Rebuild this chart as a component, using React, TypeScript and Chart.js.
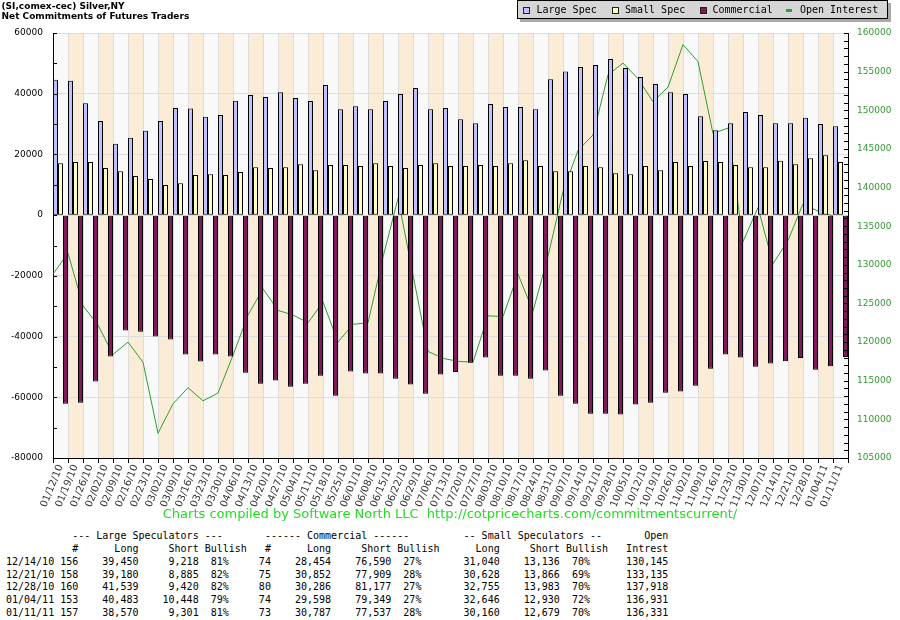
import React, { useEffect, useRef } from "react";
import { Chart, registerables } from "chart.js";

Chart.register(...registerables);

// ---------- chart data ----------
const weeks = [
  "01/12/10", "01/19/10", "01/26/10", "02/02/10", "02/09/10", "02/16/10", "02/23/10",
  "03/02/10", "03/09/10", "03/16/10", "03/23/10", "03/30/10", "04/06/10", "04/13/10",
  "04/20/10", "04/27/10", "05/04/10", "05/11/10", "05/18/10", "05/25/10", "06/01/10",
  "06/08/10", "06/15/10", "06/22/10", "06/29/10", "07/06/10", "07/13/10", "07/20/10",
  "07/27/10", "08/03/10", "08/10/10", "08/17/10", "08/24/10", "08/31/10", "09/07/10",
  "09/14/10", "09/21/10", "09/28/10", "10/05/10", "10/12/10", "10/19/10", "10/26/10",
  "11/02/10", "11/09/10", "11/16/10", "11/23/10", "11/30/10", "12/07/10", "12/14/10",
  "12/21/10", "12/28/10", "01/04/11", "01/11/11",
];

const largeSpec = [
  44600, 44300, 36900, 31000, 23500, 25500, 27800, 31000, 35300, 35100, 32400, 33000,
  37700, 39600, 38900, 40500, 38600, 37600, 42900, 34900, 35900, 34900, 37600, 39900,
  41900, 34900, 35300, 31600, 30300, 36600, 35600, 35600, 34900, 44800, 47300, 48800,
  49500, 51400, 48500, 45500, 43200, 40500, 39900, 32600, 28000, 30300, 34000, 33000,
  30232, 30295, 32119, 30035, 29269,
];

const smallSpec = [
  17100, 17500, 17500, 15500, 14500, 12900, 11900, 9900, 10500, 13200, 13500, 13200,
  14200, 15800, 15500, 15800, 16800, 14800, 16500, 16500, 16200, 17100, 16200, 15500,
  16500, 17100, 16200, 16200, 16500, 16200, 17100, 18100, 16200, 14500, 14500, 16200,
  15800, 13800, 13500, 16200, 14800, 17500, 16200, 17800, 17500, 16500, 15800, 15800,
  17904, 16762, 18772, 19716, 17481,
];

const commercial = [
  -62100, -61800, -54800, -46600, -38000, -38400, -40000, -41000, -45900, -48200, -45900,
  -46600, -51900, -55500, -54500, -56500, -55500, -52900, -59500, -51500, -52200, -52200,
  -53900, -55800, -58800, -52500, -51700, -48600, -46900, -52900, -52900, -53900, -51200,
  -59500, -62100, -65400, -65400, -65700, -62400, -61800, -58500, -58100, -56200, -50600,
  -45900, -46900, -49900, -48900, -48136, -47057, -50891, -49751, -46750,
];

const openInterest = [
  128800, 131500, 124700, 122200, 118400, 120000, 117400, 108200, 112000, 114100, 112400,
  113400, 118300, 123500, 126900, 124100, 123500, 122500, 125200, 120000, 122300, 122500,
  131000, 138600, 128700, 118800, 117900, 117500, 117400, 123400, 123300, 128800, 124000,
  131100, 139500, 144800, 146800, 154600, 156100, 154100, 151100, 153000, 158500, 156300,
  147000, 147700, 133000, 137400, 130145, 133135, 137918, 136931, 136331,
];

// axis ranges / ticks
const leftMin = -80000;
const leftMax = 60000;
const leftStep = 20000;
const leftMinorStep = 10000;
const rightMin = 105000;
const rightMax = 160000;
const rightStep = 5000;
const rightMinorStep = 1000;

// ---------- table data ----------
const tableDates = ["12/14/10", "12/21/10", "12/28/10", "01/04/11", "01/11/11"];
const lsCount = [156, 158, 160, 153, 157];
const lsLong = [39450, 39180, 41539, 40483, 38570];
const lsShort = [9218, 8885, 9420, 10448, 9301];
const lsBull = [81, 82, 82, 79, 81];
const comCount = [74, 75, 80, 74, 73];
const comLong = [28454, 30852, 30286, 29598, 30787];
const comShort = [76590, 77909, 81177, 79349, 77537];
const comBull = [27, 28, 27, 27, 28];
const ssLong = [31040, 30628, 32755, 32646, 30160];
const ssShort = [13136, 13866, 13983, 12930, 12679];
const ssBull = [70, 69, 70, 72, 70];
const openIntrest = [130145, 133135, 137918, 136931, 136331];

const COLORS = {
  large: "#c0c0ff",
  small: "#ffffc0",
  commercial: "#80185a",
  oi: "#2f9f2f",
  oiAxis: "#339933",
  footer: "#22dd22",
  bandA: "#f9f9f9",
  bandB: "#fbecd8",
};

const fmt = (n: number) => n.toLocaleString("en-US");

function place(items: [number, string][]): string {
  let s = "";
  for (const [c, t] of items) s = s.padEnd(c) + t;
  return s;
}

function buildTable(): string {
  const lines: string[] = [];
  lines.push(
    place([
      [11, "--- Large Speculators ---"],
      [43, "------ Commercial ------"],
      [76, "-- Small Speculators --"],
      [106, "Open"],
    ])
  );
  lines.push(
    place([
      [11, "#"], [18, "Long"], [27, "Short"], [33, "Bullish"],
      [43, "#"], [50, "Long"], [59, "Short"], [65, "Bullish"],
      [78, "Long"], [87, "Short"], [93, "Bullish"], [103, "Intrest"],
    ])
  );
  for (let i = 0; i < tableDates.length; i++) {
    lines.push(
      tableDates[i] +
        String(lsCount[i]).padStart(4) +
        fmt(lsLong[i]).padStart(10) +
        fmt(lsShort[i]).padStart(10) +
        (lsBull[i] + "%").padStart(5) +
        String(comCount[i]).padStart(7) +
        fmt(comLong[i]).padStart(10) +
        fmt(comShort[i]).padStart(10) +
        (comBull[i] + "%").padStart(5) +
        fmt(ssLong[i]).padStart(13) +
        fmt(ssShort[i]).padStart(10) +
        (ssBull[i] + "%").padStart(5) +
        fmt(openIntrest[i]).padStart(13)
    );
  }
  return lines.join("\n");
}

const SANS = "'DejaVu Sans', Verdana, sans-serif";
const MONO = "'DejaVu Sans Mono', monospace";

// plot frame (pixel layout): 53 categories x 15px
const PLOT_LEFT = 53;
const PLOT_RIGHT_GAP = 52;

export default function App() {
  const ref = useRef<HTMLCanvasElement | null>(null);

  useEffect(() => {
    const canvas = ref.current;
    if (!canvas) return;

    const bands = {
      id: "bands",
      beforeDraw(chart: any) {
        const { ctx, chartArea: a, scales } = chart;
        const xs = scales.x;
        const w = xs.getPixelForValue(1) - xs.getPixelForValue(0);
        ctx.save();
        for (let i = 0; i < weeks.length; i++) {
          const c = xs.getPixelForValue(i);
          ctx.fillStyle = i % 2 === 0 ? COLORS.bandA : COLORS.bandB;
          ctx.fillRect(c - w / 2, a.top, w, a.bottom - a.top);
        }
        ctx.restore();
      },
    };

    const innerTicks = {
      id: "innerTicks",
      afterDatasetsDraw(chart: any) {
        const { ctx, chartArea: a, scales } = chart;
        ctx.save();
        ctx.strokeStyle = "#000";
        ctx.lineWidth = 1;
        ctx.beginPath();
        for (let v = leftMin; v <= leftMax; v += leftMinorStep) {
          const y = Math.round(scales.y.getPixelForValue(v)) + 0.5;
          ctx.moveTo(a.left, y);
          ctx.lineTo(a.left + 4, y);
        }
        for (let v = rightMin; v <= rightMax; v += rightMinorStep) {
          const y = Math.round(scales.y2.getPixelForValue(v)) + 0.5;
          ctx.moveTo(a.right - 4, y);
          ctx.lineTo(a.right, y);
        }
        ctx.stroke();
        ctx.restore();
      },
    };

    // all datasets share the same (hidden, linear) index axis "xl";
    // the visible category axis "x" carries the week labels, grid and ticks.
    const barCommon = {
      type: "bar",
      borderColor: "#000",
      borderWidth: 1,
      borderSkipped: false,
      categoryPercentage: 1.0,
      barPercentage: 1.0,
      grouped: true,
      inflateAmount: 0,
      xAxisID: "xl",
      yAxisID: "y",
      order: 1,
    };
    const atWeek = (arr: number[]) => arr.map((v, i) => ({ x: i, y: v }));

    const chart = new Chart(canvas, {
      type: "bar",
      data: {
        labels: weeks,
        datasets: [
          { ...barCommon, label: "Large Spec", data: atWeek(largeSpec), backgroundColor: COLORS.large } as any,
          { ...barCommon, label: "Small Spec", data: atWeek(smallSpec), backgroundColor: COLORS.small } as any,
          { ...barCommon, label: "Commercial", data: atWeek(commercial), backgroundColor: COLORS.commercial } as any,
          {
            type: "line",
            label: "Open Interest",
            data: openInterest.map((v, i) => ({ x: i - 0.5, y: v })),
            xAxisID: "xl",
            yAxisID: "y2",
            borderColor: COLORS.oi,
            backgroundColor: COLORS.oi,
            borderWidth: 1,
            pointRadius: 0,
            tension: 0,
            fill: false,
            order: 5,
          } as any,
        ],
      },
      options: {
        animation: false,
        responsive: true,
        maintainAspectRatio: false,
        events: [],
        datasets: {
          bar: { categoryPercentage: 1.0, barPercentage: 1.0 },
        },
        layout: { padding: { top: 33, left: 0, right: 0, bottom: 0 } },
        plugins: {
          legend: { display: false },
          tooltip: { enabled: false },
          title: { display: false },
        },
        scales: {
          x: {
            type: "category",
            offset: true,
            grid: { offset: true, color: "#dcdcdc", tickColor: "#000", tickLength: 5, lineWidth: 1 },
            border: { display: true, color: "#000", width: 1 },
            ticks: {
              autoSkip: false,
              maxRotation: 68,
              minRotation: 68,
              padding: 0,
              color: "#333",
              font: { family: SANS, size: 10 },
            },
            afterFit: (s: any) => {
              s.height = 52;
            },
          },
          xl: {
            type: "linear",
            axis: "x",
            position: "bottom",
            display: false,
            offset: false,
            bounds: "data",
            grace: 0,
            min: -0.5,
            max: weeks.length - 0.5,
            grid: { offset: false },
            afterBuildTicks: (s: any) => {
              s.ticks = [{ value: s.min }, { value: s.max }];
            },
          },
          y: {
            position: "left",
            min: leftMin,
            max: leftMax,
            ticks: {
              stepSize: leftStep,
              padding: 10,
              color: "#000",
              font: { family: SANS, size: 9 },
              callback: (v: any) => String(v),
            },
            grid: { color: "#dddddd", drawTicks: false, lineWidth: 1 },
            border: { display: true, color: "#000", width: 1 },
            afterFit: (s: any) => {
              s.width = PLOT_LEFT;
            },
          },
          y2: {
            position: "right",
            min: rightMin,
            max: rightMax,
            ticks: {
              stepSize: rightStep,
              padding: 9,
              color: COLORS.oiAxis,
              font: { family: SANS, size: 9 },
              callback: (v: any) => String(v),
            },
            grid: { drawOnChartArea: false, drawTicks: false },
            border: { display: true, color: "#000", width: 1 },
            afterFit: (s: any) => {
              s.width = PLOT_RIGHT_GAP;
            },
          },
        },
      } as any,
      plugins: [bands, innerTicks],
    });

    return () => chart.destroy();
  }, []);

  const legendItems = [
    { label: "Large Spec", color: COLORS.large, sq: 523, tx: 536.5, kind: "box" },
    { label: "Small Spec", color: COLORS.small, sq: 611.5, tx: 625, kind: "box" },
    { label: "Commercial", color: COLORS.commercial, sq: 699.5, tx: 712.5, kind: "box" },
    { label: "Open Interest", color: COLORS.oi, sq: 786, tx: 800, kind: "line" },
  ];

  return (
    <div style={{ position: "absolute", left: 0, top: 0, width: 900, height: 620, background: "#fff", overflow: "hidden" }}>
      <div style={{ position: "absolute", left: 0, top: 0, width: 900, height: 510 }}>
        <canvas ref={ref} />
      </div>

      <div
        style={{
          position: "absolute",
          left: 1.5,
          top: 0.5,
          font: `bold 9px ${SANS}`,
          lineHeight: "10.5px",
          color: "#000",
          whiteSpace: "pre",
        }}
      >
        {"(SI,comex-cec) Silver,NY\nNet Commitments of Futures Traders"}
      </div>

      <div
        style={{
          position: "absolute",
          left: 517,
          top: 0,
          width: 371,
          height: 19,
          boxSizing: "border-box",
          background: "#d6d6d6",
          border: "1px solid #000",
          boxShadow: "3px 3px 0 #a9a9a9",
        }}
      />
      {legendItems.map((it) =>
        <React.Fragment key={it.label}>
          {it.kind === "box" ? (
            <div
              style={{
                position: "absolute",
                left: it.sq,
                top: 6.5,
                width: 7,
                height: 7,
                boxSizing: "border-box",
                background: it.color,
                border: "1px solid #222",
              }}
            />
          ) : (
            <div style={{ position: "absolute", left: it.sq, top: 9, width: 6, height: 2.5, background: it.color }} />
          )}
          <div
            style={{
              position: "absolute",
              left: it.tx,
              top: 3,
              font: `10px ${MONO}`,
              lineHeight: "14px",
              color: "#000",
              whiteSpace: "pre",
            }}
          >
            {it.label}
          </div>
        </React.Fragment>
      )}

      <div
        style={{
          position: "absolute",
          left: 0,
          top: 506,
          width: 900,
          textAlign: "center",
          font: `13px ${SANS}`,
          lineHeight: "15px",
          color: COLORS.footer,
          whiteSpace: "pre",
        }}
      >
        {"Charts compiled by Software North LLC  http://cotpricecharts.com/commitmentscurrent/"}
      </div>

      <pre
        style={{
          position: "absolute",
          left: 6,
          top: 530.3,
          margin: 0,
          font: `10px ${MONO}`,
          lineHeight: "12.8px",
          color: "#000",
        }}
      >
        {buildTable()}
      </pre>
    </div>
  );
}
